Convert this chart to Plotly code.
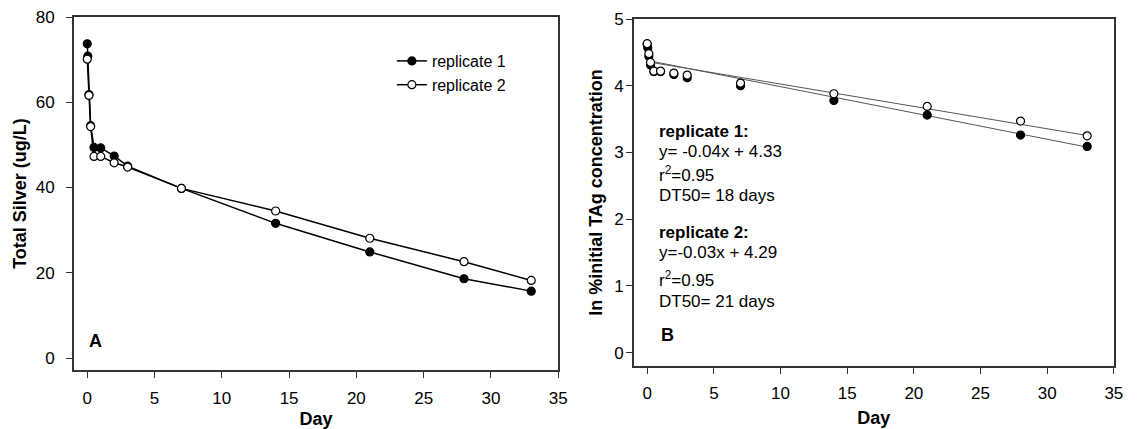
import plotly.graph_objects as go

# ---------------- data ----------------
days_rep1 = [0, 0.04, 0.125, 0.25, 0.5, 1, 2, 3, 7, 14, 21, 28, 33]
silver_rep1 = [73.7, 70.8, 61.8, 54.5, 49.4, 49.3, 47.4, 45.0, 39.8, 31.6, 24.9, 18.6, 15.7]
days_rep2 = [0, 0.125, 0.25, 0.5, 1, 2, 3, 7, 14, 21, 28, 33]
silver_rep2 = [70.1, 61.6, 54.3, 47.3, 47.3, 45.8, 44.8, 39.8, 34.5, 28.1, 22.6, 18.2]

ln_rep1 = [4.62, 4.57, 4.44, 4.31, 4.21, 4.21, 4.17, 4.12, 4.00, 3.78, 3.56, 3.26, 3.09]
ln_rep2 = [4.63, 4.48, 4.35, 4.22, 4.22, 4.19, 4.16, 4.04, 3.88, 3.69, 3.47, 3.25]

# regression lines as drawn in panel B (intercept, slope) and their x extent
fit_rep1 = (4.38, -0.0394)
fit_rep2 = (4.36, -0.0335)
fit_x = [0, 33]

x_ticks = [0, 5, 10, 15, 20, 25, 30, 35]
yA_ticks = [0, 20, 40, 60, 80]
yB_ticks = [0, 1, 2, 3, 4, 5]

W, H = 1143, 429
ML, MR, MT, MB = 0, 0, 17, 59
PH = H - MT - MB

def px(x):
    return x / W

def py(y):
    return (H - MB - y) / PH

FONT = "Liberation Sans, Arial, sans-serif"
AXC = "#333333"

fig = go.Figure()

filled = dict(symbol="circle", size=8, color="black", line=dict(color="black", width=1.2))
hollow = dict(symbol="circle", size=8, color="white", line=dict(color="black", width=1.2))

fig.add_trace(go.Scatter(x=days_rep1, y=silver_rep1, mode="lines+markers", name="replicate 1",
                         line=dict(color="black", width=1.5), marker=filled, xaxis="x", yaxis="y"))
fig.add_trace(go.Scatter(x=days_rep2, y=silver_rep2, mode="lines+markers", name="replicate 2",
                         line=dict(color="black", width=1.5), marker=hollow, xaxis="x", yaxis="y"))

fig.add_trace(go.Scatter(x=fit_x, y=[fit_rep1[0] + fit_rep1[1] * v for v in fit_x], mode="lines",
                         line=dict(color="#555555", width=1), showlegend=False, xaxis="x2", yaxis="y2"))
fig.add_trace(go.Scatter(x=fit_x, y=[fit_rep2[0] + fit_rep2[1] * v for v in fit_x], mode="lines",
                         line=dict(color="#555555", width=1), showlegend=False, xaxis="x2", yaxis="y2"))
fig.add_trace(go.Scatter(x=days_rep1, y=ln_rep1, mode="markers", marker=filled,
                         showlegend=False, xaxis="x2", yaxis="y2"))
fig.add_trace(go.Scatter(x=days_rep2, y=ln_rep2, mode="markers", marker=hollow,
                         showlegend=False, xaxis="x2", yaxis="y2"))

axis_common = dict(showline=True, linecolor=AXC, linewidth=1.5, mirror=True, showgrid=False,
                   zeroline=False, ticks="outside", ticklen=6, tickwidth=1.2, tickcolor=AXC,
                   tickfont=dict(family=FONT, size=17, color="black"))

xA0, xA1 = 74.4, 562.6
xB0, xB1 = 638.9, 1122.7

fig.update_layout(
    width=W, height=H,
    margin=dict(l=ML, r=MR, t=MT, b=MB),
    paper_bgcolor="white", plot_bgcolor="white",
    font=dict(family=FONT, color="black"),
    xaxis=dict(domain=[px(xA0), px(xA1)], range=[-1, 35], tickvals=x_ticks, anchor="y",
               ticklabelstandoff=6,
               title=dict(text="<b>Day</b>", font=dict(size=18, family=FONT), standoff=5),
               **axis_common),
    yaxis=dict(domain=[0, 1], range=[-2.8, 80], tickvals=yA_ticks, anchor="x",
               ticklabelstandoff=8,
               title=dict(text="<b>Total Silver (ug/L)</b>", font=dict(size=18, family=FONT), standoff=4),
               **axis_common),
    xaxis2=dict(domain=[px(xB0), px(xB1)], range=[-1, 35], tickvals=x_ticks, anchor="y2",
                ticklabelstandoff=5,
                title=dict(text="<b>Day</b>", font=dict(size=18, family=FONT), standoff=9),
                **axis_common),
    yaxis2=dict(domain=[4 / PH, 1 - 2 / PH], range=[-0.2, 5], tickvals=yB_ticks, anchor="x2",
                ticklabelstandoff=-1,
                title=dict(text="<b>ln %initial TAg concentration</b>", font=dict(size=18, family=FONT), standoff=7),
                **axis_common),
    legend=dict(x=px(395), y=py(44), xanchor="left", yanchor="top",
                font=dict(family=FONT, size=16, color="black"),
                bgcolor="rgba(0,0,0,0)", tracegroupgap=0, itemwidth=30),
    showlegend=True,
)

ann = []
def add_text(x, y, text, bold=False, size=17):
    ann.append(dict(x=px(x), y=py(y), xref="paper", yref="paper", xanchor="left", yanchor="middle",
                    text=f"<b>{text}</b>" if bold else text, showarrow=False,
                    font=dict(family=FONT, size=size, color="black")))

add_text(88, 341, "A", bold=True, size=18)
add_text(664, 335, "B", bold=True, size=18)
add_text(662, 131, "replicate 1:", bold=True)
add_text(662, 151, "y= -0.04x + 4.33")
add_text(662, 174, "r<sup>2</sup>=0.95")
add_text(662, 196, "DT50= 18 days")
add_text(662, 232, "replicate 2:", bold=True)
add_text(662, 252, "y=-0.03x + 4.29")
add_text(662, 279, "r<sup>2</sup>=0.95")
add_text(662, 301, "DT50= 21 days")
fig.update_layout(annotations=ann)

fig.write_html("out.html", config={"displayModeBar": False},
               post_script="document.body.style.margin='0px';")
